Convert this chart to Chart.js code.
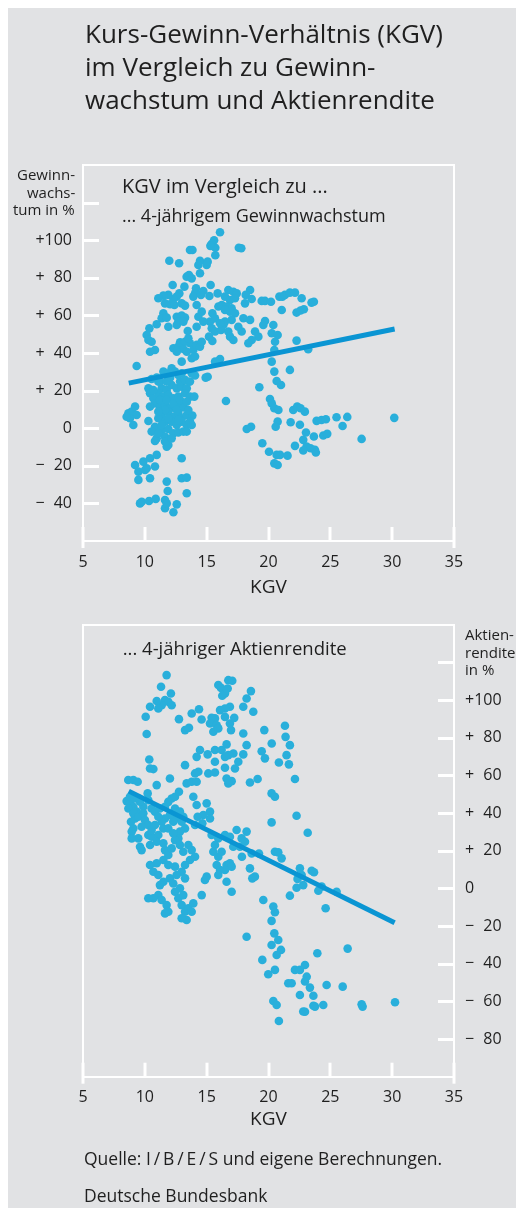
<!DOCTYPE html>
<html><head><meta charset="utf-8">
<script src="https://cdn.jsdelivr.net/npm/chart.js@4.4.0/dist/chart.umd.min.js"></script>
<style>
html,body{margin:0;padding:0;background:#fff;}
#wrap{position:relative;width:516px;height:1208px;overflow:hidden;}
#panel{position:absolute;left:8px;top:8px;width:508px;height:1200px;background:#e1e2e4;}
canvas{position:absolute;left:0;}
.txt{position:absolute;font-family:'Open Sans',sans-serif;color:#1f1f1f;white-space:nowrap;}
</style></head>
<body><div id="wrap"><div id="panel"></div>
<canvas id="c1" width="516" height="604" style="top:0px"></canvas>
<canvas id="c2" width="516" height="604" style="top:604px"></canvas>
</div>
<script>
// ---- Data: KGV vs. 4-year earnings growth (%) ----
const kgvGrowth = [
16.08,15.6,15.4,15.7,15.3,15.7,13.65,13.85,17.6,17.8,
11.98,12.77,14.46,14.33,15.0,15.08,14.46,13.38,13.57,13.79,
13.2,12.25,15.32,14.14,12.79,12.58,12.31,11.9,11.5,11.09,
11.63,12.04,12.39,12.98,13.25,14.06,13.92,14.73,14.54,14.19,
15.22,15.89,16.75,17.16,17.43,16.48,16.89,17.29,18.51,18.16,
18.64,18.1,19.45,19.72,20.2,20.88,21.12,21.07,15.95,16.22,
16.62,17.02,16.89,17.29,16.48,15.46,15.27,15.67,14.6,14.33,
14.73,11.5,11.36,11.77,10.96,10.37,11.9,12.58,12.98,13.25,
12.71,12.58,13.12,13.47,14.19,15.41,15.68,15.19,15.46,16.16,
16.35,16.75,16.89,17.16,17.02,16.48,16.08,17.56,17.83,17.97,
18.51,19.72,19.58,18.91,19.18,18.64,18.37,20.39,20.26,20.74,
20.53,20.47,20.26,20.47,20.66,21.01,19.26,20.12,20.26,20.47,
20.8,20.74,20.58,18.24,18.59,19.5,20.04,20.66,20.93,20.47,
20.74,16.56,14.92,15.08,15.68,16.08,9.34,12.31,12.71,13.12,
13.39,13.65,13.92,14.19,14.46,14.6,13.79,12.98,14.06,12.58,
12.85,13.25,13.52,10.15,10.29,10.55,10.42,10.82,11.5,11.9,
12.17,12.44,12.71,12.98,12.04,13.79,14.06,10.55,10.96,10.29,
11.09,11.36,11.77,12.17,12.58,12.98,13.39,13.25,13.65,14.0,
10.42,10.69,11.09,11.5,11.9,12.31,12.71,10.82,11.23,11.63,
12.04,12.44,12.85,13.12,10.42,11.36,11.9,12.31,12.71,12.98,
13.39,13.84,11.09,11.63,12.17,12.58,12.98,13.39,10.29,10.82,
11.36,11.9,12.31,12.71,13.12,13.39,10.96,11.63,11.9,11.77,
10.82,8.67,8.94,9.21,9.34,8.8,9.07,8.53,9.21,9.48,
9.88,10.15,10.42,10.82,10.96,10.42,9.48,10.02,12.98,11.77,
11.85,12.98,13.39,13.39,9.61,9.75,10.34,10.88,11.63,11.63,
11.77,12.58,12.31,21.33,21.73,22.14,22.68,23.48,23.67,22.27,
22.59,22.86,22.27,23.21,21.73,21.54,22,22.32,22.59,22.94,
21.79,22.54,23.89,24.29,24.64,25.5,26.37,25.99,30.17,23.03,
22.81,23.67,24.43,24.75,22.14,23.08,23.4,23.75,22.81,23.83,
27.53,10.69,11.23,11.77,12.31,12.85,13.39,11.63,12.58,13.52,
11.09,11.9,12.71,13.65,11.36,13.79,10.55,11.09,11.63,12.17,
11.23,11.77,12.85,13.25,13.65
];
const growth = [
104.2,100,98,96,97,92,94.8,94.8,96,95.7,
89.1,87.7,89,86.8,86.8,88.6,82.4,80.6,81.5,79.7,
75.3,76.2,76.2,74.4,71.7,70,68.7,70.9,70.5,69.1,
66.4,65.9,65.5,66.4,65.2,71.7,70,73,70.9,65.5,
70.3,71.7,73.5,72.6,71.7,70,68.2,69.1,73.5,70.9,
68.7,66.4,67.7,67.7,67.3,70,70,62.9,64.7,65.5,
64.7,63.8,62,61.1,62.9,61.1,56.7,58.4,62,59.3,
56.7,61.1,58.5,58.8,55.3,53.1,54,59.3,59.9,58.8,
56.7,54.9,56.7,51.7,54,53.1,51.4,48.7,46.4,52.2,
54.9,51.4,48.7,46.9,57.6,56.7,55.8,54,51.4,58.5,
57.6,57,54.9,51.4,48.7,46.9,45.2,54.9,50.5,49.6,
46,41.6,35.4,30.1,25.1,23,21.8,15.5,13.2,10.6,
9.7,3.5,0.8,-0.4,0.8,-8,-12.5,-14.2,-14.2,-18.7,
-19.6,14.5,26.9,27.4,35.4,36.8,33.1,42.5,43.4,42.1,
40.7,45.2,41.6,44.3,43.4,46,37.2,35.4,38.1,40.7,
45.7,46,47.8,49.6,46.9,46,40.7,41.6,30.1,29.2,
31.9,30.1,28.3,29.2,26.9,29.2,28,26.2,26.9,21.2,
24.8,21.2,20.3,23,21.2,22.1,21.2,18.6,16.8,16.8,
18.6,15.9,18.6,16.8,17.7,15.9,16.8,13.2,11.5,12.4,
10.6,11.5,12.4,11,11.5,7,8.8,6.1,7.9,5.3,
7,6.7,5.3,3.5,3.5,1.7,3.5,1.7,3.8,0.8,
-0.9,-0.4,-2.7,-2.2,-1.8,-1.8,-5.4,-4.5,-8.9,-9.8,
-6.8,7.9,8.8,11.5,7,5.3,1.7,6.1,-19.6,-23.1,
-17.8,-21.3,-16,-20.4,-14.2,-26.6,-27.5,-22.2,-16,-28.4,
-33.4,-26.6,-26.3,-34.6,-40,-39.1,-38.7,-37.6,-38.2,-42.6,
-40,-40.5,-44.7,70.9,72.1,72.1,69.1,66.8,67.3,61.5,
62.6,63.3,46.6,42,31,-14.6,9.7,11.5,10.6,8.8,
3.2,1.8,3.9,4.4,4.8,5.8,6,1.2,5.5,-2.3,
-6.2,-4.4,-3.9,-3,-9.4,-9.8,-10.7,-11.5,-11.9,-12.9,
-5.7,20.3,15,15,13.2,15,14.1,9.7,9.7,9.7,
8.8,5.3,4.4,3.5,1.7,1.7,-1.8,-2.7,-7.1,-5.4,
24.8,24.8,24.8,25.7,24.8
];
// ---- Data: KGV vs. 4-year stock return (%) ----
const kgvReturn = [
11.76,11.31,12.11,11.63,11.9,12.17,11.36,10.96,11.09,10.42,
10.07,10.15,12.76,13.79,14.38,14.59,13.25,13.57,15.94,16.16,
16.75,17.07,16.7,16.48,16.26,18.58,18.23,17.96,18.77,16.88,
16.48,16.08,15.67,15.4,15.27,15.81,15.54,15.94,16.48,16.88,
17.23,16.97,17.96,18.23,17.96,17.56,17.29,17.16,16.75,19.66,
20.26,19.45,19.71,21.33,21.38,21.73,21.46,20.84,21.65,22.14,
14.46,14.19,15.08,15.67,16.21,16.61,16.48,15.67,13.25,14.33,
15.13,15.67,16.48,13.38,13.79,14.19,14.06,16.61,17.02,16.75,
18.5,19.12,10.36,10.42,10.69,12.03,10.96,8.66,9.07,9.42,
8.53,8.8,9.07,9.47,9.34,9.88,10.23,10.28,10.55,10.82,
11.22,11.63,11.9,12.17,12.44,12.76,8.88,9.07,8.94,9.21,
12.44,12.84,13.11,12.57,12.3,12.03,11.63,11.36,12.98,13.25,
12.84,12.71,13.92,14.19,15,15.27,15.27,14.73,14.27,14.06,
14.65,15.4,15.94,16.48,16.88,17.42,17.83,18.23,17.15,17.69,
18.1,18.64,19.23,20.52,20.79,21.06,17.85,20.25,20.52,20.25,
22.27,18.5,18.9,18.69,22.54,22.68,22.35,22.81,22.27,21.73,
15.67,15.54,15.94,16.21,15.81,16.08,16.61,16.88,17.02,16.48,
15.94,15,14.86,14.6,16.61,17.02,9.61,9.74,10.28,10.42,
10.55,11.09,10.96,11.5,11.63,11.9,12.17,12.44,12.84,13.11,
13.52,13.79,14.06,13.65,13.25,12.98,12.44,11.9,11.5,10.96,
10.42,10.69,11.09,11.5,12.03,12.3,12.57,12.84,13.25,11.22,
11.09,10.69,10.28,11.36,11.76,11.9,11.63,12.44,12.71,13.11,
12.98,13.25,13.52,13.79,13.38,12.98,13.92,19.58,20.39,20.52,
20.25,18.23,20.47,20.79,20.25,21.01,20.66,19.5,20.52,19.98,
22.14,22.54,22.95,21.6,21.87,22.54,20.39,20.66,20.84,22.81,
23.49,23.68,24.3,24.03,25.51,24.62,26.4,23.95,23.09,22.95,
23.35,23.63,24.7,26,22.95,23.76,23.63,24.43,27.53,27.61,
30.23,23.17,8.8,9.2,9.61,8.67,9.07,9.47,9.88,10.01,
9.74,10.28,10.55,10.82,11.09,11.49,11.9,12.3,9.47,8.94
];
const stockReturn = [
113.2,107,103.4,99.9,99,97.2,97.2,99.4,95.5,96.4,
91.1,81.9,89.8,92.8,95.1,89.6,84,85.2,107.9,106.4,
110.5,110.2,106.1,103.4,102.2,104.7,100.8,96.4,93.7,96.4,
95.5,94.6,90.2,90.5,87.5,86.6,83.1,84.9,91,87.5,
90.5,84,82.2,76,71.1,67.2,63.6,71.6,70.7,84,
76.9,72.8,69,86.3,80.4,76,70.7,66.8,65.8,58,
73.4,69.8,71.1,73.4,73.4,76.4,69.8,67.2,65.4,61.9,
61,61.5,64,55.7,56.6,56.6,61,58.3,56.9,55.7,
56.2,58,68.4,63.6,63.3,58.3,54.8,57.5,57.5,56.6,
46.3,45.1,43.3,47.7,40.7,43.3,50.4,46.8,42.4,40.7,
42.4,43.3,45.9,47.7,48.6,51.3,35.3,31.8,30.1,37.1,
42.4,40.7,38,37.1,35.4,38.9,37.1,35.4,35.4,31.8,
30.1,26.5,48.6,44.2,45.1,40.7,37.1,38.9,38,33.6,
34.5,28.3,26.5,28.3,27.4,31,26.5,30.1,22.1,22.1,
24.7,18.5,18.5,19.4,19.1,15.9,16.8,50.4,48.6,35,
38.5,10.6,6.2,5.3,10.6,7.1,5,1.7,0.3,-3.9,
23,19.4,16.8,19.4,12.4,9.7,12.4,13.3,11.5,9.7,
7.1,6.2,4.4,-3.6,3.5,-1.8,22.1,20.3,28.3,23,
27.4,28.3,24.7,23.9,20.3,17.7,21.2,25.6,23,19.4,
23,20.3,16.8,15,12.4,8.8,11.5,12.4,15,13.3,
12.4,8.8,7.1,3.5,5.3,2.6,7.1,0,5.3,1.7,
-3.6,-5.3,-5.3,-6.2,-8.9,-12.4,-13.3,-1.8,-5.3,-3.6,
-8.9,-12.4,-10.6,-12.4,-16.8,-15.9,-8,-6.2,-9.7,-12.7,
-17.3,-25.7,-23.9,-27.4,-30.1,-32.7,-35.4,-38,-43.3,-45.6,
-43.3,-43.3,-40.7,-50.4,-50.4,-56.6,-59.8,-61.9,-70.4,-65.4,
9.3,8.5,0.9,-1.3,-1.8,-10.6,-32,-34.5,-46.9,-49.5,
-52.7,-57,-51.3,-52.2,-65.5,-62.8,-62.3,-61.9,-61.6,-62.8,
-60.5,29.5,48.6,47.7,46,42.4,39.8,38,39.8,36.2,
32.7,33.6,30.9,33.6,38,31.8,31.8,29.2,26.5,26.5
];
// ---- Regression lines (end points) ----
const trendGrowthX = [8.7, 30.2];
const trendGrowthY = [24, 52.8];
const trendReturnX = [8.7, 30.2];
const trendReturnY = [51.6, -18.3];

const DOT = '#29afdb', LINE = '#0a95d3', TXT = '#1f1f1f', WHITE = '#ffffff';
const FONT = "'Open Sans', sans-serif";
Chart.defaults.font.family = FONT;
Chart.defaults.color = TXT;

function fmt(v){
  if (v === 0) return '0';
  const a = Math.abs(v);
  return (v > 0 ? '+' : '\u2212') + (a < 100 ? '\u2007' : '') + a;
}
const pts = (xs, ys) => xs.map((x, i) => ({x, y: ys[i]}));

// white tick stubs drawn inside the frame, positioned by the chart's own scales
const innerTicks = {
  id: 'innerTicks',
  beforeDatasetsDraw(chart){
    const ctx = chart.ctx, a = chart.chartArea;
    const xs = chart.scales.x, ys = chart.scales.y;
    ctx.save();
    ctx.strokeStyle = WHITE; ctx.lineWidth = 3; ctx.lineCap = 'butt';
    const seg = (x1, y1, x2, y2) => { ctx.beginPath(); ctx.moveTo(x1, y1); ctx.lineTo(x2, y2); ctx.stroke(); };
    xs.ticks.forEach((t, i) => {
      const px = Math.round(xs.getPixelForValue(t.value));
      const ext = (i === 0 || i === xs.ticks.length - 1) ? 7 : 0;
      seg(px, a.bottom - 14, px, a.bottom + ext);
    });
    ys.ticks.forEach(t => {
      if (t.value <= ys.min || t.value >= ys.max) return;
      const py = Math.round(ys.getPixelForValue(t.value)) + 0.5;
      if (ys.position === 'left') seg(a.left, py, a.left + 16, py);
      else seg(a.right - 16, py, a.right, py);
    });
    ctx.restore();
  }
};

function borderAxis(pos, size){
  return {type:'linear', position:pos, display:true,
    afterFit: s => { if (pos==='top'||pos==='bottom') s.height = size; else s.width = size; },
    ticks:{display:false}, grid:{display:false},
    border:{display:true, color:WHITE, width:2}};
}

function makeChart(id, xs, ys, tx, ty, cfg){
  const scales = {
    x: {type:'linear', position:'bottom', min:5, max:35,
      afterFit: s => { s.height = cfg.xHeight; },
      ticks:{stepSize:5, padding:11.5, color:TXT, font:{size:16}},
      grid:{display:true, drawOnChartArea:false, drawTicks:false, color:WHITE, lineWidth:2},
      border:{color:WHITE, width:2},
      title:{display:true, text:'KGV', color:TXT, font:{size:19}, padding:{top:0, bottom:cfg.titlePad}}},
    y: {type:'linear', position:cfg.yPos, min:cfg.yMin, max:140,
      afterFit: s => { s.width = cfg.yWidth; },
      ticks:{stepSize:20, padding:11, color:TXT, font:{size:16},
        callback: v => (v >= cfg.lblMin && v <= 100) ? fmt(v) : ''},
      grid:{display:true, drawOnChartArea:false, drawTicks:false, color:WHITE, lineWidth:2},
      border:{color:WHITE, width:2}},
    xTop: borderAxis('top', cfg.topH),
    ySide: borderAxis(cfg.yPos === 'left' ? 'right' : 'left', cfg.sideW)
  };
  return new Chart(document.getElementById(id), {
    type:'scatter',
    data:{datasets:[
      {type:'line', data:pts(tx, ty), borderColor:LINE, borderWidth:5, pointRadius:0, fill:false, borderCapStyle:'butt'},
      {type:'scatter', data:pts(xs, ys), backgroundColor:DOT, borderWidth:0, pointRadius:4.3, pointHoverRadius:4.3}
    ]},
    options:{responsive:false, animation:false, events:[], devicePixelRatio:1,
      layout:{padding:{left:0, right:0, top:0, bottom:cfg.padBottom}},
      plugins:{legend:{display:false}, tooltip:{enabled:false}},
      scales},
    plugins:[innerTicks]
  });
}

makeChart('c1', kgvGrowth, growth, trendGrowthX, trendGrowthY,
  {xHeight:63, titlePad:4.6, yPos:'left', yMin:-60, yWidth:83, lblMin:-40, topH:165, sideW:62, padBottom:0});
makeChart('c2', kgvReturn, stockReturn, trendReturnX, trendReturnY,
  {xHeight:60, titlePad:5.3, yPos:'right', yMin:-100, yWidth:62, lblMin:-80, topH:20, sideW:83, padBottom:71.3});

// ---- Text blocks ----
const wrap = document.getElementById('wrap');
function addText(str, x, base, size, align){
  const d = document.createElement('div');
  d.className = 'txt';
  d.style.fontSize = size + 'px';
  d.style.lineHeight = '1.2';
  const s = document.createElement('span'); s.textContent = str;
  const m = document.createElement('span');
  m.style.cssText = 'display:inline-block;width:0;height:0;vertical-align:baseline';
  d.appendChild(s); d.appendChild(m);
  d.style.left = '0px'; d.style.top = '0px';
  wrap.appendChild(d);
  const off = m.offsetTop;
  d.style.top = (base - off) + 'px';
  d.style.left = (align === 'right' ? x - d.offsetWidth : x) + 'px';
}
addText('Kurs-Gewinn-Verhältnis (KGV)', 85, 43.3, 26);
addText('im Vergleich zu Gewinn-', 85, 76.3, 26);
addText('wachstum und Aktienrendite', 85, 109.3, 26);
addText('Gewinn-', 75, 180, 15, 'right');
addText('wachs-', 75, 197.5, 15, 'right');
addText('tum in %', 75, 215, 15, 'right');
addText('KGV im Vergleich zu ...', 122, 193.3, 20);
addText('... 4-jährigem Gewinnwachstum', 122, 221.7, 18);
addText('... 4-jähriger Aktienrendite', 122.7, 655, 18.5);
addText('Aktien-', 465, 640, 15);
addText('rendite', 465, 657.5, 15);
addText('in %', 465, 675, 15);
addText('Quelle: I\u2009/\u2009B\u2009/\u2009E\u2009/\u2009S und eigene Berechnungen.', 84, 1165, 17.5);
addText('Deutsche Bundesbank', 84, 1201.5, 17.5);
</script>
</body></html>
